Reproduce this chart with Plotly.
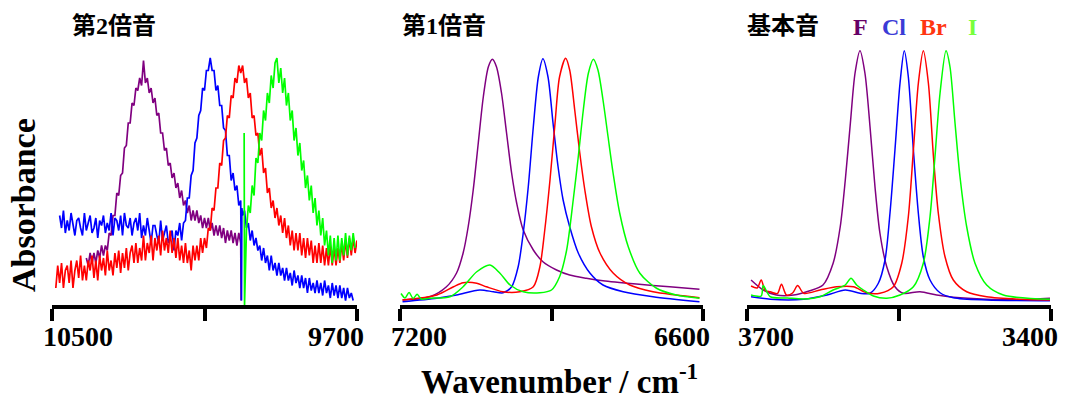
import plotly.graph_objects as go

# ---------------- 第2倍音 (second overtone), sampled every 5 cm-1 ----------------
WN2_PURPLE = list(range(10410, 10000, -5)) + [10004]
A2_PURPLE = [0.20,0.17,0.22,0.18,0.22,0.18,0.23,0.20,0.25,0.21,0.25,0.23,0.30,0.29,0.37,0.37,0.46,0.45,0.53,0.54,
             0.64,0.65,0.74,0.74,0.82,0.81,0.88,0.87,0.92,0.89,
             0.99,
             0.90,0.92,0.86,0.88,0.82,0.84,0.77,0.78,0.70,0.70,0.63,0.64,0.57,0.58,0.52,0.54,0.48,0.50,0.44,0.47,
             0.41,0.43,0.38,0.41,0.35,0.39,0.35,0.39,0.34,0.37,0.32,0.36,0.32,0.36,0.31,0.34,0.29,0.33,0.29,0.33,
             0.28,0.32,0.26,0.31,0.27,0.31,0.26,0.30,0.25,0.30,0.26,
             0.03]

WN2_BLUE = list(range(10480, 10000, -5)) + [10003, 10002] + list(range(10000, 9705, -5))
A2_BLUE = [0.37,0.32,0.39,0.30,0.35,0.31,0.38,0.34,0.29,0.35,0.36,0.32,0.29,0.38,0.31,0.34,0.37,0.30,0.32,0.36,
           0.28,0.35,0.33,0.37,0.30,0.34,0.31,0.38,0.29,0.36,0.35,0.31,0.37,0.29,0.38,0.33,0.32,0.36,0.29,0.34,
           0.36,0.31,0.38,0.28,0.33,0.29,0.36,0.31,0.26,0.33,0.33,0.29,0.26,0.35,0.27,0.30,0.33,0.26,0.28,0.31,
           0.23,0.31,0.29,0.34,0.27,0.34,
           0.35,0.44,0.44,0.53,0.55,0.66,0.68,0.77,0.79,0.88,0.87,0.95,0.95,1.00,0.95,0.95,0.87,0.89,0.81,0.81,
           0.72,0.71,0.61,0.61,0.51,0.54,0.47,0.49,0.41,0.43,
           0.03,0.40,
           0.37,0.39,0.32,0.34,0.27,0.31,0.25,0.28,0.23,0.25,0.19,0.24,0.18,0.21,0.15,0.21,0.15,0.18,0.13,0.18,
           0.13,0.16,0.11,0.16,0.11,0.14,0.09,0.15,0.10,0.13,0.08,0.13,0.08,0.12,0.06,0.12,0.07,0.10,0.06,0.11,
           0.06,0.10,0.05,0.11,0.06,0.09,0.04,0.10,0.05,0.09,0.04,0.09,0.04,0.08,0.03,0.08,0.04,0.06,0.03]

WN2_RED = list(range(10490, 9695, -5))
A2_RED = [0.08,0.17,0.10,0.18,0.08,0.15,0.17,0.10,0.19,0.08,0.15,0.19,0.12,0.21,0.11,0.17,0.11,0.19,0.15,0.21,
          0.12,0.19,0.11,0.21,0.15,0.20,0.13,0.23,0.15,0.19,0.13,0.22,0.16,0.23,0.14,0.22,0.16,0.24,0.15,0.22,
          0.25,0.18,0.26,0.18,0.24,0.19,0.29,0.19,0.26,0.22,0.29,0.19,0.28,0.23,0.29,0.21,0.31,0.23,0.28,0.22,
          0.31,0.22,0.28,0.20,0.28,0.19,0.25,0.18,0.26,0.18,0.23,0.15,0.25,0.19,0.25,0.19,0.28,0.22,0.28,0.24,
          0.32,0.31,0.40,0.39,0.48,0.48,0.58,0.57,0.67,0.68,0.77,0.76,0.85,0.84,0.92,0.90,0.97,0.94,0.97,0.90,
          0.92,0.84,0.86,0.76,0.77,0.69,0.70,0.61,0.64,0.54,0.56,0.46,0.48,0.40,0.43,0.36,0.40,0.33,0.37,0.30,
          0.36,0.28,0.33,0.25,0.31,0.23,0.30,0.23,0.30,0.21,0.28,0.20,0.28,0.21,0.27,0.18,0.25,0.18,0.26,0.18,
          0.25,0.17,0.24,0.17,0.25,0.17,0.24,0.17,0.24,0.18,0.26,0.19,0.27,0.20,0.28,0.21,0.28,0.22,0.27]

WN2_GREEN = [9996, 9995] + list(range(9990, 9700, -5))
A2_GREEN = [0.70,0.01,
            0.31,0.41,0.38,0.49,0.45,0.60,0.58,0.70,0.67,0.79,0.75,0.86,0.82,0.93,0.88,0.98,
            1.00,
            0.90,0.96,0.86,0.92,0.81,0.86,0.75,0.79,0.67,0.72,0.61,0.66,0.55,0.59,0.48,0.53,0.43,0.49,0.38,0.44,
            0.33,0.39,0.29,0.36,0.25,0.31,0.21,0.29,0.18,0.28,0.19,0.29,0.19,0.28,0.21,0.30,0.21,0.29,0.23,0.30,
            0.24]

# ---------------- 第1倍音 (first overtone) ----------------
WN1_PURPLE = [7195,7141,7108,7088,7075,7065,7055,7045,7035,7025,7017,7009,6999,6989,6979,6969,
              6956,6936,6917,6890,6864,6831,6798,6732,6666,6607]
A1_PURPLE = [0.032,0.045,0.085,0.14,0.22,0.325,0.472,0.66,0.845,0.965,0.995,0.965,0.86,0.70,0.54,0.42,
             0.312,0.232,0.185,0.152,0.132,0.119,0.109,0.096,0.085,0.075]

WN1_BLUE = [7195,7127,7088,7042,7015,6996,6979,6966,6956,6946,6936,6926,6917,6907,6897,6887,
            6877,6864,6847,6824,6798,6758,6699,6607]
A1_BLUE = [0.025,0.039,0.052,0.072,0.065,0.061,0.085,0.165,0.30,0.485,0.725,0.925,0.997,0.925,0.74,0.565,
           0.432,0.325,0.22,0.14,0.092,0.065,0.045,0.025]

WN1_RED = [7195,7127,7094,7075,7048,7029,6996,6963,6936,6923,6914,6903,6893,6884,6872,6864,
           6854,6844,6834,6821,6804,6778,6745,6699,6653,6607]
A1_RED = [0.032,0.052,0.085,0.101,0.099,0.085,0.065,0.065,0.085,0.165,0.30,0.512,0.74,0.925,0.999,0.952,
          0.792,0.62,0.472,0.325,0.22,0.14,0.092,0.065,0.052,0.041]

WN1_GREEN = [7198,7190,7182,7174,7166,7158,7141,7101,7075,7048,7022,7002,6982,6956,6923,6900,
             6884,6870,6857,6847,6837,6827,6817,6808,6798,6788,6778,6765,6748,6725,6692,6653,6607]
A1_GREEN = [0.058,0.040,0.062,0.038,0.055,0.036,0.039,0.045,0.085,0.145,0.172,0.139,0.092,0.065,0.061,0.072,
            0.125,0.232,0.432,0.605,0.792,0.939,0.995,0.952,0.832,0.685,0.539,0.38,0.245,0.139,0.079,0.052,0.039]

# ---------------- 基本音 (fundamental) ----------------
WN0_PURPLE = [3696,3684,3671,3654,3638,3625,3615,3608,3603,3598,3593.4,3588.5,3583.6,3578.6,3573.7,
              3568.8,3562.1,3554,3545.8,3529.3,3512.8,3496.4,3463.5,3430,3401]
A0_PURPLE = [0.112,0.072,0.052,0.052,0.069,0.092,0.179,0.325,0.512,0.739,0.939,1.029,0.939,0.725,0.485,
             0.299,0.165,0.085,0.059,0.065,0.052,0.043,0.035,0.033,0.039]

WN0_BLUE = [3696,3677,3644,3621,3603,3588.5,3578.6,3570.4,3563.8,3558.9,3554,3549,3544.8,3540.8,
            3535.8,3530.9,3526,3519.4,3509.5,3496.4,3463.5,3401]
A0_BLUE = [0.045,0.035,0.035,0.052,0.072,0.059,0.059,0.099,0.192,0.379,0.632,0.899,1.029,0.925,
           0.632,0.379,0.205,0.112,0.061,0.041,0.032,0.029]

WN0_RED = [3696,3690,3686,3682,3677,3670,3666,3661,3655,3650,3644,3628,3611.5,3595,3582,3568.8,
           3555.6,3547.3,3540.8,3535.8,3530.9,3526,3521,3516,3511.2,3504.6,3496.4,3483.2,3463.5,3430.6,3401]
A0_RED = [0.088,0.080,0.112,0.070,0.065,0.058,0.095,0.052,0.060,0.090,0.059,0.072,0.085,0.085,0.061,0.059,
          0.085,0.179,0.365,0.632,0.899,1.029,0.899,0.605,0.379,0.205,0.112,0.065,0.045,0.035,0.032]

WN0_GREEN = [3696,3686,3684,3677,3660,3644,3628,3615,3603,3597.4,3591.8,3585.2,3575.3,3562.1,3549,
             3535.8,3526,3519.4,3514.5,3509.5,3503.6,3499.7,3494.7,3489.8,3483.2,3475,3463.5,3447,3401]
A0_GREEN = [0.052,0.048,0.090,0.045,0.040,0.036,0.045,0.072,0.092,0.119,0.092,0.072,0.048,0.039,0.052,
            0.085,0.179,0.365,0.605,0.859,1.029,0.965,0.739,0.525,0.325,0.179,0.092,0.052,0.035]

PANEL_TITLES = ["第2倍音", "第1倍音", "基本音"]
X_RANGES = [(10500, 9700), (7200, 6600), (3700, 3400)]
X_TICKS = [[10500, 10100, 9700], [7200, 6900, 6600], [3700, 3550, 3400]]
HALOGENS = ["F", "Cl", "Br", "I"]
LINE_COLORS = ["#800080", "#0000ff", "#ff0000", "#00ff00"]
LABEL_COLORS = ["#660066", "#3b3bd6", "#ff3510", "#78ff3c"]

panels = [
    [(WN2_PURPLE, A2_PURPLE), (WN2_BLUE, A2_BLUE), (WN2_RED, A2_RED), (WN2_GREEN, A2_GREEN)],
    [(WN1_PURPLE, A1_PURPLE), (WN1_BLUE, A1_BLUE), (WN1_RED, A1_RED), (WN1_GREEN, A1_GREEN)],
    [(WN0_PURPLE, A0_PURPLE), (WN0_BLUE, A0_BLUE), (WN0_RED, A0_RED), (WN0_GREEN, A0_GREEN)],
]

W, H = 1065, 394
x_domains_px = [(52, 357), (400, 703), (747, 1051)]
y_bottom_px, y_top_px = 305, 40

fig = go.Figure()
for i, series in enumerate(panels):
    xa = "x" if i == 0 else f"x{i+1}"
    ya = "y" if i == 0 else f"y{i+1}"
    for j, (wn, ab) in enumerate(series):
        if i == 0:
            line = dict(color=LINE_COLORS[j], width=1.7)
        else:
            line = dict(color=LINE_COLORS[j], width=1.5, shape="spline", smoothing=0.8)
        fig.add_trace(go.Scatter(x=wn, y=ab, mode="lines", line=line,
                                 xaxis=xa, yaxis=ya, showlegend=False, hoverinfo="skip"))

layout = dict(width=W, height=H, margin=dict(l=0, r=0, t=0, b=0),
              paper_bgcolor="white", plot_bgcolor="white", showlegend=False)
ydom = [(H - y_bottom_px) / H, (H - y_top_px) / H]
for i in range(3):
    xk = "xaxis" if i == 0 else f"xaxis{i+1}"
    yk = "yaxis" if i == 0 else f"yaxis{i+1}"
    d0, d1 = x_domains_px[i]
    layout[xk] = dict(domain=[d0 / W, d1 / W], range=list(X_RANGES[i]),
                      anchor="y" if i == 0 else f"y{i+1}",
                      showgrid=False, zeroline=False, showline=True, linecolor="black", linewidth=4,
                      ticks="outside", ticklen=12, tickwidth=4, tickcolor="black",
                      tickvals=X_TICKS[i], showticklabels=False)
    layout[yk] = dict(domain=ydom, range=[0.012, 1.072], anchor="x" if i == 0 else f"x{i+1}",
                      visible=False, showgrid=False, zeroline=False)
fig.update_layout(**layout)

serif = "Liberation Serif, Times New Roman, serif"
cjk = "Liberation Serif, Noto Sans CJK JP, sans-serif"
ann = []
tick_y = (H - 336) / H
for i in range(3):
    xr = "x" if i == 0 else f"x{i+1}"
    lo, hi = X_RANGES[i]
    ann.append(dict(x=lo, xref=xr, y=tick_y, yref="paper", text=f"<b>{lo}</b>", showarrow=False,
                    xanchor="left", yanchor="middle", xshift=-11,
                    font=dict(family=serif, size=28, color="black")))
    ann.append(dict(x=hi, xref=xr, y=tick_y, yref="paper", text=f"<b>{hi}</b>", showarrow=False,
                    xanchor="right", yanchor="middle", xshift=9,
                    font=dict(family=serif, size=28, color="black")))

title_left_px = [70, 400, 745]
for i, t in enumerate(PANEL_TITLES):
    ann.append(dict(x=title_left_px[i] / W, xref="paper", y=(H - 26) / H, yref="paper",
                    text=f"<b>{t}</b>", showarrow=False, xanchor="left", yanchor="middle",
                    font=dict(family=cjk, size=24, color="black")))

label_cx_px = [860, 893.5, 933.5, 972.5]
for k, name in enumerate(HALOGENS):
    ann.append(dict(x=label_cx_px[k] / W, xref="paper", y=(H - 27) / H, yref="paper",
                    text=f"<b>{name}</b>", showarrow=False, xanchor="center", yanchor="middle",
                    font=dict(family=serif, size=24, color=LABEL_COLORS[k])))

ann.append(dict(x=23 / W, xref="paper", y=(H - 205) / H, yref="paper", text="<b>Absorbance</b>",
                textangle=-90, showarrow=False, xanchor="center", yanchor="middle",
                font=dict(family=serif, size=34, color="black")))
ann.append(dict(x=559 / W, xref="paper", y=(H - 379) / H, yref="paper",
                text="<b>Wavenumber / cm<sup>-1</sup></b>", showarrow=False,
                xanchor="center", yanchor="middle",
                font=dict(family=serif, size=33, color="black")))
fig.update_layout(annotations=ann)

fig.write_html("out.html", config={"displayModeBar": False},
               post_script="document.body.style.margin='0';document.body.style.overflow='hidden';")
